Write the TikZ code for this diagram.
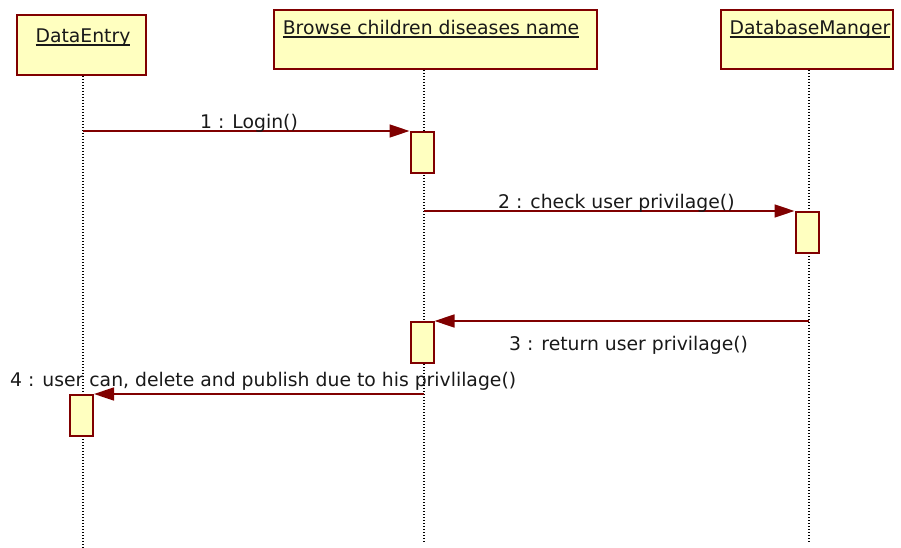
\documentclass[tikz,border=0pt]{standalone}
\usepackage{fontspec}
\setmainfont{DejaVu Sans}
\usetikzlibrary{arrows.meta}
\definecolor{umlred}{HTML}{800000}
\definecolor{umlfill}{HTML}{FFFFC0}
\newcommand\objname[1]{\setbox0\hbox{#1}\rlap{\rule[-3pt]{\wd0}{1.6pt}}\box0}
\tikzset{
  obj/.style={draw=umlred, fill=umlfill, line width=2pt, inner sep=0pt},
  act/.style={draw=umlred, fill=umlfill, line width=2pt, inner sep=0pt, minimum width=23pt, minimum height=41pt, anchor=north},
  life/.style={line width=1.4pt, dash pattern=on 1.4pt off 1.6pt},
  msg/.style={draw=umlred, line width=1.5pt, -{Triangle[length=20pt,width=13pt]}},
  txt/.style={font=\fontsize{18.8}{22}\selectfont, inner sep=0pt, text=black!90},
}
\begin{document}
\begin{tikzpicture}[x=1pt,y=-1pt]
\useasboundingbox (0,0) rectangle (901,548);
% object boxes
\node[obj, minimum width=129pt, minimum height=60pt] (de) at (81.5,45) {};
\node[obj, minimum width=323pt, minimum height=59pt] (br) at (435.5,39.5) {};
\node[obj, minimum width=172pt, minimum height=59pt] (db) at (807,39.5) {};
% lifeline ends
\coordinate (deend) at (83,548);
\coordinate (brend) at (424,542);
\coordinate (dbend) at (809,542);
\draw[life] (de.south -| deend) -- (deend);
\draw[life] (br.south -| brend) -- (brend);
\draw[life] (db.south -| dbend) -- (dbend);
% object names
\node[txt, anchor=base] (detxt) at (83,43) {\objname{DataEntry}};
\node[txt, anchor=base] (brtxt) at (431,35) {\objname{Browse children diseases name}};
\node[txt, anchor=base] (dbtxt) at (810,35) {\objname{DatabaseManger}};
% activations
\node[act] (a1) at (422,131) {};
\node[act] (a2) at (807,211) {};
\node[act] (a3) at (422,321) {};
\node[act] (a4) at (81.5,394) {};
% messages
\coordinate (m1s) at (83,131);
\coordinate (m2s) at (424,211);
\coordinate (m3s) at (809,321);
\coordinate (m4s) at (424,394);
\draw[msg] (m1s) -- (a1.north west);
\draw[msg] (m2s) -- (a2.north west);
\draw[msg] (m3s) -- (a3.north east);
\draw[msg] (m4s) -- (a4.north east);
% labels
\node[txt, anchor=base west] (l1) at (200,129) {1 : Login()};
\node[txt, anchor=base west] (l2) at (498,208) {2 : check user privilage()};
\node[txt, anchor=base west] (l3) at (509,350) {3 : return user privilage()};
\node[txt, anchor=base west] (l4) at (10,386) {4 : user can, delete and publish due to his privlilage()};
\end{tikzpicture}
\end{document}
